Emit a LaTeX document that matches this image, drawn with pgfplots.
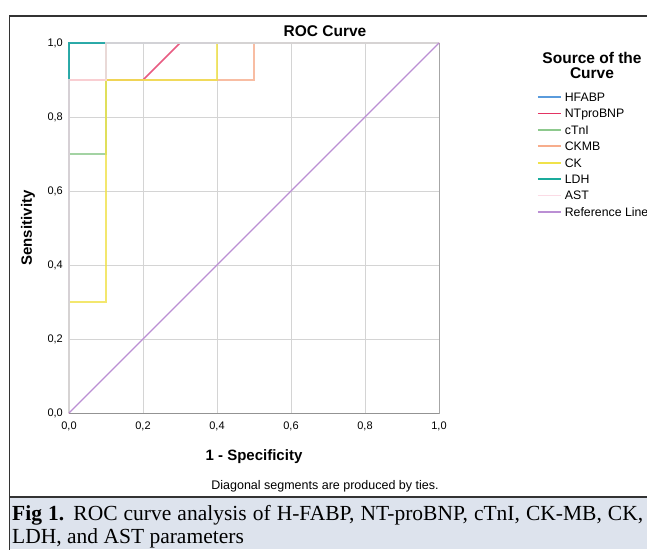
\documentclass[border=0pt]{standalone}
\usepackage{fontspec}
\setmainfont{Liberation Sans}
\newfontfamily\capfont{Liberation Serif}
\usepackage{pgfplots}
\pgfplotsset{compat=1.18}
\definecolor{cHF}{HTML}{5A9BDC}
\definecolor{cNT}{HTML}{E33463}
\definecolor{cTn}{HTML}{8DC98D}
\definecolor{cCKMB}{HTML}{F7AD8C}
\definecolor{cCK}{HTML}{F0E24A}
\definecolor{cLDH}{HTML}{1AAB9C}
\definecolor{cAST}{HTML}{FBDBE5}
\definecolor{cRef}{HTML}{BB8FD4}
\definecolor{capbg}{RGB}{221,227,237}
\definecolor{gridc}{HTML}{D4D4D4}
\begin{document}
\begin{tikzpicture}[x=1pt,y=1pt]
\path[use as bounding box] (0,0) rectangle (647,549);
\fill[white] (0,0) rectangle (647,549);
\fill[capbg] (9.5,0) rectangle (648,52);
\draw[line width=1.2pt, black!80] (9.5,-1) -- (9.5,533) -- (648,533);
\draw[line width=1.2pt, black!80] (9.5,52) -- (648,52);
\begin{axis}[
  at={(69pt,136pt)}, anchor=south west,
  scale only axis, width=370pt, height=370pt,
  xmin=0, xmax=1, ymin=0, ymax=1,
  clip=false,
  xtick={0,0.2,0.4,0.6,0.8,1.0},
  ytick={0,0.2,0.4,0.6,0.8,1.0},
  grid=major,
  major grid style={draw=gridc, line width=0.9pt},
  axis line style={draw=gray!70, line width=0.8pt},
  major tick length=0pt,
  tick style={draw=none},
  /pgf/number format/.cd, fixed, fixed zerofill, precision=1, use comma, assume math mode=true,
  /pgfplots/.cd,
  tick label style={font=\fontsize{11}{13}\selectfont},
  xticklabel style={inner sep=0pt, anchor=north, yshift=-8.7pt},
  yticklabel style={inner sep=0pt, anchor=east, xshift=-6pt},
  title={ROC Curve},
  title style={font=\bfseries\fontsize{15.5}{18}\selectfont, at={(axis description cs:0.692,1.0324)}, anchor=center, yshift=-6pt, inner sep=0pt},
  xlabel={1 - Specificity},
  xlabel style={font=\bfseries\fontsize{15}{18}\selectfont, at={(axis description cs:0.5,-0.119)}, anchor=center, inner sep=0pt},
  ylabel={Sensitivity},
  ylabel style={font=\bfseries\fontsize{15}{18}\selectfont, at={(axis description cs:-0.111,0.5)}, anchor=center, rotate=0, inner sep=0pt},
  legend cell align=left,
  legend image code/.code={\draw[#1, opacity=1, line width=1.8pt] (0pt,0pt) -- (23pt,0pt);},
  legend style={at={(axis description cs:1.265,0.876)}, anchor=north west,
    draw=none, fill=none, inner sep=0pt, outer sep=0pt,
    font=\fontsize{12.3}{14}\selectfont,
    nodes={inner sep=0pt, text height=8.8pt, text depth=0pt, minimum height=16.4pt},
    /tikz/every odd column/.append style={column sep=3pt}},
]
\draw[gray!85, line width=0.9pt] (rel axis cs:0,1) -- (rel axis cs:0,0) -- (rel axis cs:1,0);
\addplot[cHF, line width=1.6pt, opacity=0.8] coordinates {(0,0) (0,1) (1,1)};
\addlegendentry{HFABP}
\addplot[cNT, line width=1.6pt, opacity=0.8] coordinates {(0,0) (0,0.9) (0.2,0.9) (0.3,1) (1,1)};
\addlegendentry{NTproBNP}
\addplot[cTn, line width=1.6pt, opacity=0.8] coordinates {(0,0) (0,0.7) (0.1,0.7) (0.1,0.9) (0.1,1) (1,1)};
\addlegendentry{cTnI}
\addplot[cCKMB, line width=1.6pt, opacity=0.8] coordinates {(0,0) (0,0.9) (0.5,0.9) (0.5,1) (1,1)};
\addlegendentry{CKMB}
\addplot[cCK, line width=1.6pt, opacity=0.8] coordinates {(0,0) (0,0.3) (0.1,0.3) (0.1,0.9) (0.4,0.9) (0.4,1) (1,1)};
\addlegendentry{CK}
\addplot[cLDH, line width=1.6pt, opacity=0.8] coordinates {(0,0) (0,1) (1,1)};
\addlegendentry{LDH}
\addplot[cAST, line width=1.6pt, opacity=0.8] coordinates {(0,0) (0,0.9) (0.1,0.9) (0.1,1) (1,1)};
\addlegendentry{AST}
\addplot[cRef, line width=1.1pt] coordinates {(0,0) (1,1)};
\addlegendentry{Reference Line}
\end{axis}
\node[font=\bfseries\fontsize{15.5}{18}\selectfont, inner sep=0pt] at (592,490.7) {Source of the};
\node[font=\bfseries\fontsize{15.5}{18}\selectfont, inner sep=0pt] at (592,475.7) {Curve};
\node[font=\fontsize{12.5}{14}\selectfont, inner sep=0pt] at (325,63) {Diagonal segments are produced by ties.};
\node[anchor=base west, inner sep=0pt, font=\capfont\fontsize{21.5}{23}\selectfont] at (12,29) {\makebox[631pt][s]{\textbf{Fig 1.} ROC curve analysis of H-FABP, NT-proBNP, cTnI, CK-MB, CK,}};
\node[anchor=base west, inner sep=0pt, font=\capfont\fontsize{21.5}{23}\selectfont] at (12,6) {LDH, and AST parameters};
\end{tikzpicture}
\end{document}
